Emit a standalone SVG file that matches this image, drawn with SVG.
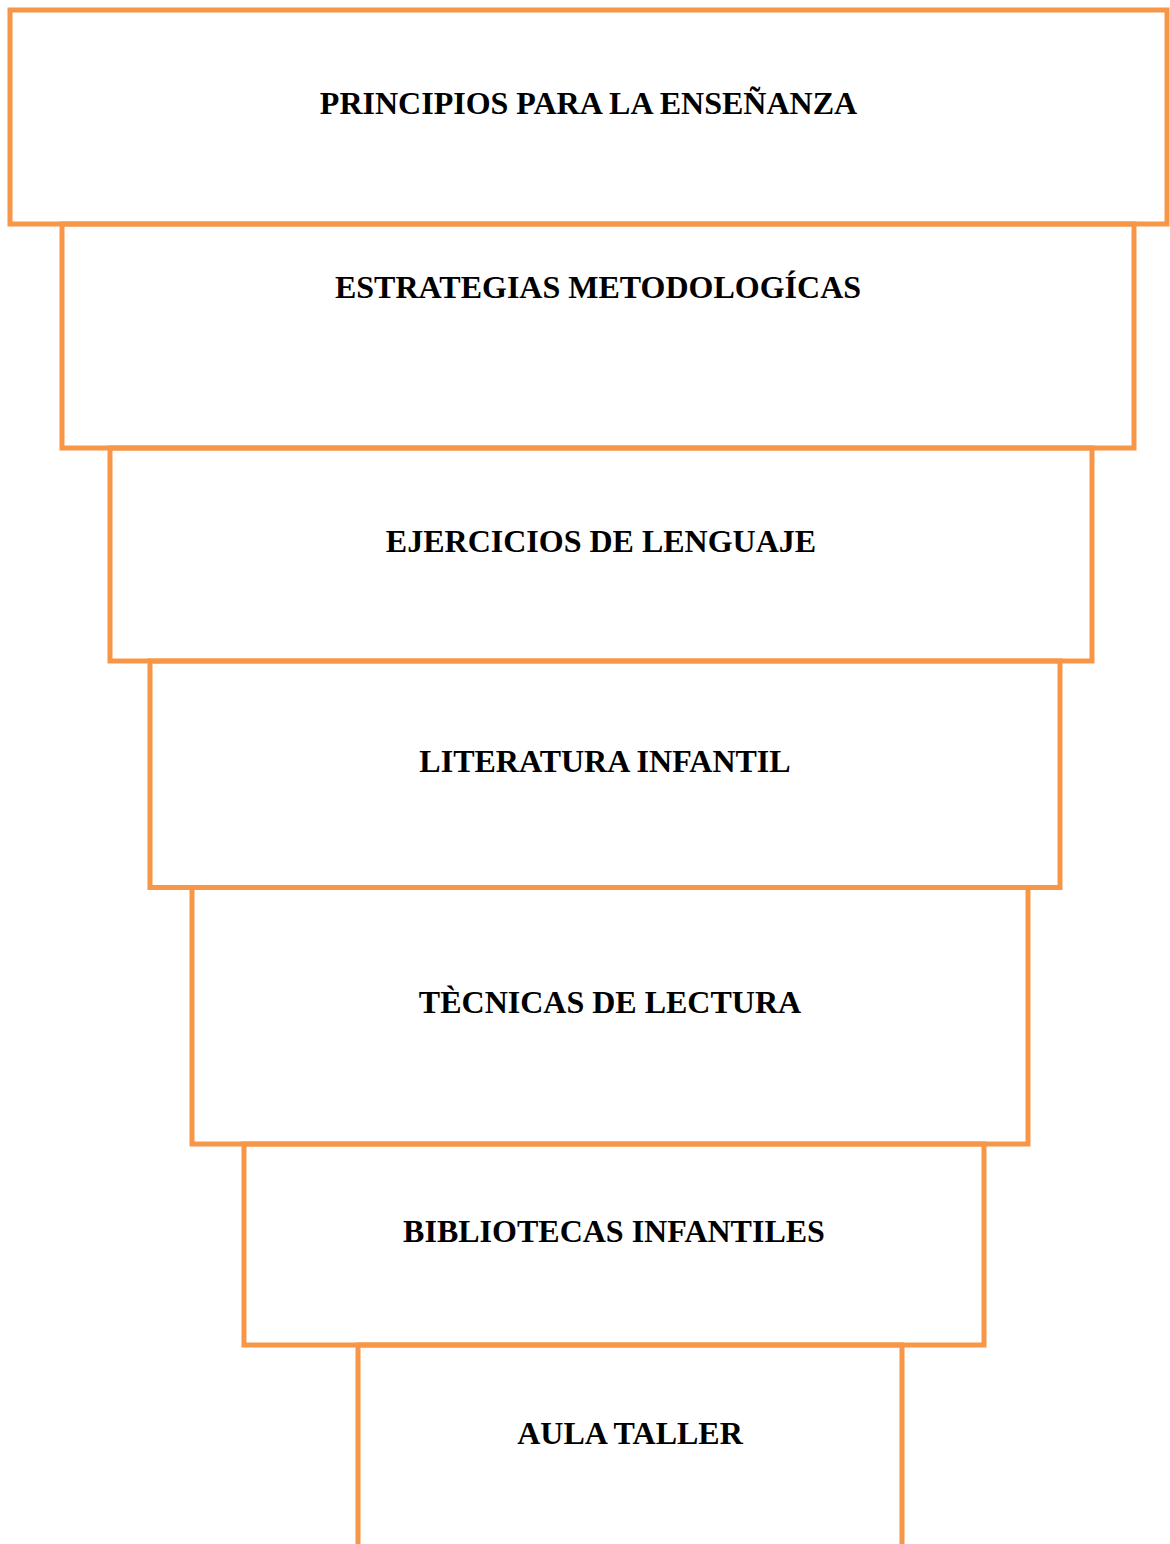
<svg xmlns="http://www.w3.org/2000/svg" width="1170" height="1544" viewBox="0 0 1170 1544">
<style>
.box{fill:none;stroke:#F79646;stroke-width:5}
.lbl{font-family:"Liberation Serif","Times New Roman",serif;font-weight:bold;font-size:32px;fill:#000;text-anchor:middle}
</style>
<rect x="0" y="0" width="1170" height="1544" fill="#fff"/>
<g id="n1"><rect class="box" x="10" y="10" width="1157" height="214"/><text class="lbl" x="588.5" y="114">PRINCIPIOS PARA LA ENSEÑANZA</text></g>
<g id="n2"><rect class="box" x="62" y="224" width="1072" height="224"/><text class="lbl" x="598" y="298">ESTRATEGIAS METODOLOGÍCAS</text></g>
<g id="n3"><rect class="box" x="110" y="448" width="982" height="213"/><text class="lbl" x="601" y="552">EJERCICIOS DE LENGUAJE</text></g>
<g id="n4"><rect class="box" x="150" y="661" width="910" height="226.5"/><text class="lbl" x="605" y="772">LITERATURA INFANTIL</text></g>
<g id="n5"><rect class="box" x="192" y="887.5" width="836" height="256.5"/><text class="lbl" x="610" y="1012.5">TÈCNICAS DE LECTURA</text></g>
<g id="n6"><rect class="box" x="244" y="1144" width="740" height="201"/><text class="lbl" x="614" y="1242">BIBLIOTECAS INFANTILES</text></g>
<g id="n7"><path class="box" d="M358 1560 V1345 H902 V1560"/><text class="lbl" x="630" y="1444">AULA TALLER</text></g>
</svg>
